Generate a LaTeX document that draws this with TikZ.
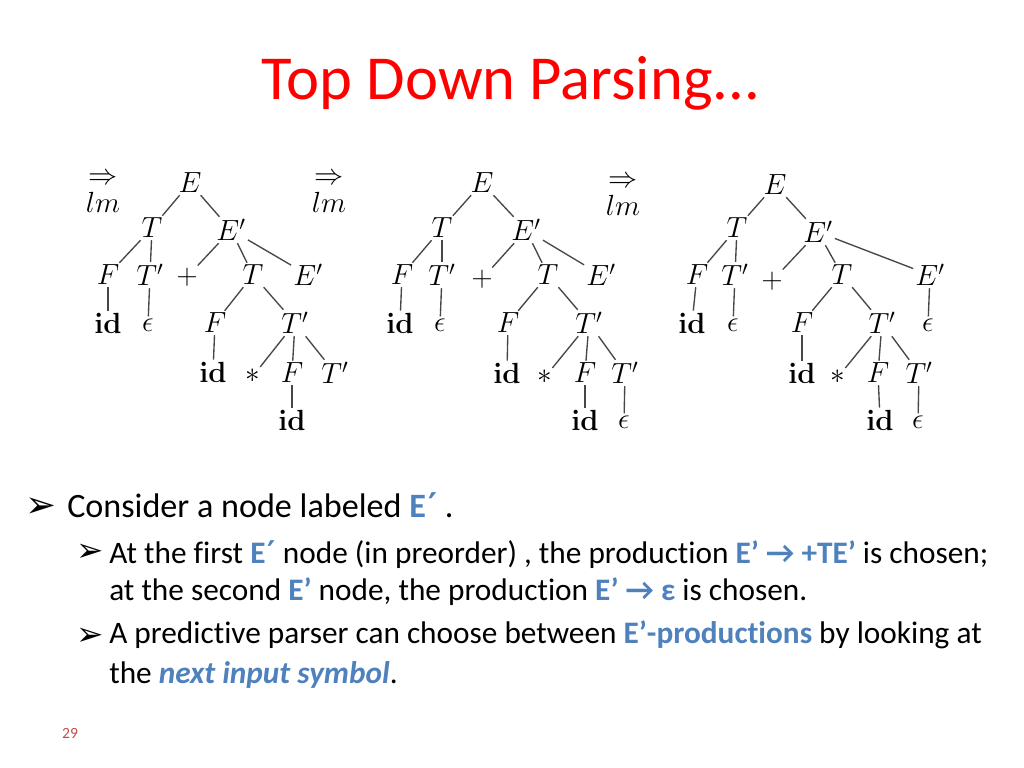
\RequirePackage{fix-cm}
\documentclass[tikz,border=0pt]{standalone}
\usepackage[no-math]{fontspec}
\setmainfont{Carlito}[Ligatures={NoCommon}]
\newfontfamily\dejavu{DejaVu Sans}
\definecolor{accblue}{RGB}{79,129,189}
\definecolor{titlered}{RGB}{255,0,0}
\definecolor{pgred}{RGB}{192,80,77}
\newcommand\hlb[1]{\textcolor{accblue}{\textbf{#1}}}
\newcommand\prm{\hspace{1.5pt}{\dejavu\bfseries ′}}
\begin{document}
\begin{tikzpicture}[x=0.703125pt,y=-0.703125pt,
  tn/.style={font=\fontsize{20.5}{23}\selectfont, inner sep=1.4pt},
  edge/.style={draw=black!72, line width=0.95pt},
  body/.style={font=\fontsize{24}{28}\selectfont, anchor=base west, inner sep=0pt},
  sub/.style={font=\fontsize{22}{26}\selectfont, anchor=base west, inner sep=0pt},
  bul/.style={font=\dejavu\fontsize{26}{28}\selectfont, inner sep=0pt},
  sbul/.style={font=\dejavu\fontsize{23}{24}\selectfont, inner sep=0pt},
  lmarrow/.style={tn, align=center, inner sep=0pt}]
\useasboundingbox (0,0) rectangle (1024,768);
\fill[white] (0,0) rectangle (1024,768);

% title
\node[font=\fontsize{44}{50}\selectfont, text=titlered, anchor=base, inner sep=0pt] (title) at (511,100) {Top Down Parsing...};

% derivation arrows
\node[lmarrow] (r1) at (103,193) {$\Rightarrow$\\[-3pt]$lm$};
\node[lmarrow] (r2) at (329,193) {$\Rightarrow$\\[-3pt]$lm$};
\node[lmarrow] (r3) at (623,196) {$\Rightarrow$\\[-3pt]$lm$};

% tree a
\node[tn] (aE) at (190,183) {$E$};
\node[tn] (aT) at (152,228) {$T$};
\node[tn] (aEp) at (231,230) {$E'$};
\node[tn] (aF) at (108,275) {$F$};
\node[tn] (aTp) at (150,275) {$T'$};
\node[tn] (aplus) at (187,277) {$+$};
\node[tn] (aT2) at (253,275) {$T$};
\node[tn] (aEp2) at (308,275) {$E'$};
\node[tn] (aid) at (108,323) {$\mathbf{id}$};
\node[tn] (aeps) at (148,325) {$\epsilon$};
\node[tn] (aF2) at (215,323) {$F$};
\node[tn] (aTp2) at (295,323) {$T'$};
\node[tn] (aid2) at (213,372) {$\mathbf{id}$};
\node[tn] (astar) at (253,376) {$*$};
\node[tn] (aF3) at (292,373) {$F$};
\node[tn] (aTp3) at (335,373) {$T'$};
\node[tn] (aid3) at (292,420) {$\mathbf{id}$};
% tree b
\node[tn] (bE) at (482,183) {$E$};
\node[tn] (bT) at (442,228) {$T$};
\node[tn] (bEp) at (526,230) {$E'$};
\node[tn] (bF) at (402,275) {$F$};
\node[tn] (bTp) at (442,275) {$T'$};
\node[tn] (bplus) at (482,279) {$+$};
\node[tn] (bT2) at (548,275) {$T$};
\node[tn] (bEp2) at (601,275) {$E'$};
\node[tn] (bid) at (400,323) {$\mathbf{id}$};
\node[tn] (beps) at (440,325) {$\epsilon$};
\node[tn] (bF2) at (508,323) {$F$};
\node[tn] (bTp2) at (589,323) {$T'$};
\node[tn] (bid2) at (507,373) {$\mathbf{id}$};
\node[tn] (bstar) at (545,377) {$*$};
\node[tn] (bF3) at (585,373) {$F$};
\node[tn] (bTp3) at (625,373) {$T'$};
\node[tn] (bid3) at (585,420) {$\mathbf{id}$};
\node[tn] (beps2) at (624,422) {$\epsilon$};
% tree c
\node[tn] (cE) at (775,185) {$E$};
\node[tn] (cT) at (737,228) {$T$};
\node[tn] (cEp) at (818,232) {$E'$};
\node[tn] (cF) at (697,275) {$F$};
\node[tn] (cTp) at (735,275) {$T'$};
\node[tn] (cplus) at (772,281) {$+$};
\node[tn] (cT2) at (842,275) {$T$};
\node[tn] (cEp2) at (930,275) {$E'$};
\node[tn] (cid) at (692,323) {$\mathbf{id}$};
\node[tn] (ceps) at (733,325) {$\epsilon$};
\node[tn] (cF2) at (802,323) {$F$};
\node[tn] (cTp2) at (882,323) {$T'$};
\node[tn] (ceps3) at (928,325) {$\epsilon$};
\node[tn] (cid2) at (802,373) {$\mathbf{id}$};
\node[tn] (cstar) at (838,377) {$*$};
\node[tn] (cF3) at (878,373) {$F$};
\node[tn] (cTp3) at (919,373) {$T'$};
\node[tn] (cid3) at (880,420) {$\mathbf{id}$};
\node[tn] (ceps2) at (918,422) {$\epsilon$};

% edges
\foreach \p in {a,b,c} {
  \draw[edge] (\p E) -- (\p T);
  \draw[edge] (\p E) -- (\p Ep);
  \draw[edge] (\p T) -- (\p F);
  \draw[edge] (\p T) -- (\p Tp);
  \draw[edge] (\p Ep) -- (\p plus);
  \draw[edge] (\p Ep) -- (\p T2);
  \draw[edge] (\p Ep) -- (\p Ep2);
  \draw[edge] (\p F) -- (\p id);
  \draw[edge] (\p Tp) -- (\p eps);
  \draw[edge] (\p T2) -- (\p F2);
  \draw[edge] (\p T2) -- (\p Tp2);
  \draw[edge] (\p F2) -- (\p id2);
  \draw[edge] (\p Tp2) -- (\p star);
  \draw[edge] (\p Tp2) -- (\p F3);
  \draw[edge] (\p Tp2) -- (\p Tp3);
  \draw[edge] (\p F3) -- (\p id3);
}
\draw[edge] (bTp3) -- (beps2);
\draw[edge] (cTp3) -- (ceps2);
\draw[edge] (cEp2) -- (ceps3);

% bullets and text
\node[bul] (b1) at (41,508) {➢};
\node[body] (l1) at (67,517) {Consider a node labeled \hlb{E\prm} .};
\node[sbul] (b2) at (90,553) {➢};
\node[sub] (l2) at (109,563) {At the first \hlb{E\prm} node (in preorder) , the production \hlb{E’ → +TE’} is chosen;};
\node[sub] (l3) at (109,600) {at the second \hlb{E’} node, the production \hlb{E’ → ε} is chosen.};
\node[sbul] (b3) at (90,637) {➢};
\node[sub] (l4) at (109,643) {A predictive parser can choose between \hlb{E’-productions} by looking at};
\node[sub] (l5) at (109,683) {the \textcolor{accblue}{\textbf{\textit{next input symbol}}}.};

% page number
\node[font=\fontsize{11}{13}\selectfont, text=pgred, anchor=base, inner sep=0pt] (pg) at (70,738) {29};
\end{tikzpicture}
\end{document}
